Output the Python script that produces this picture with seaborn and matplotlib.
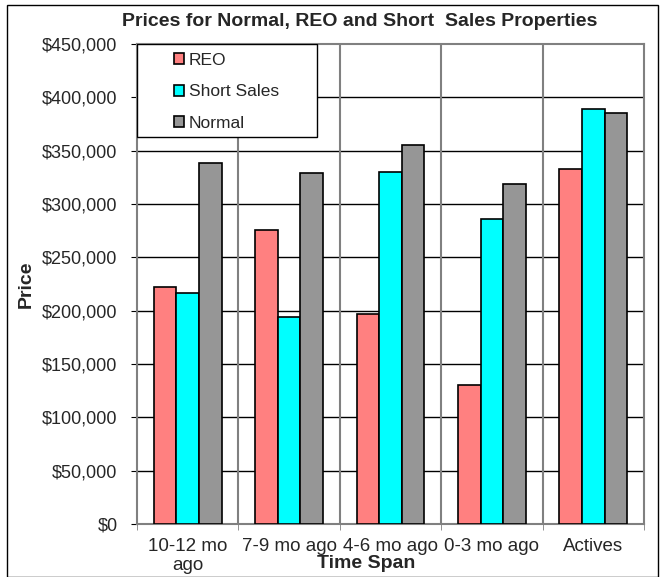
import pandas as pd
import seaborn as sns
import matplotlib.pyplot as plt
from matplotlib.patches import Rectangle, Patch
from matplotlib.ticker import FuncFormatter

# Data
periods = ["10-12 mo\nago", "7-9 mo ago", "4-6 mo ago", "0-3 mo ago", "Actives"]
series = ["REO", "Short Sales", "Normal"]
reo = [222000, 276000, 197000, 130000, 333000]
short_sales = [217000, 194000, 330000, 286000, 389000]
normal = [338000, 329000, 355000, 319000, 385000]
colors = ["#FF8080", "#00FFFF", "#969696"]

df = pd.DataFrame({
    "Time Span": periods * 3,
    "Type": [s for s in series for _ in periods],
    "Price": reo + short_sales + normal,
})

sns.set_style("white")
plt.rcParams["font.family"] = ["Liberation Sans", "DejaVu Sans"]

fig = plt.figure(figsize=(6.6, 5.77), dpi=100)
ax = fig.add_axes([137 / 660, 1 - 524 / 577, 507 / 660, 480 / 577])

sns.barplot(data=df, x="Time Span", y="Price", hue="Type", hue_order=series,
            palette=colors, width=0.67, edgecolor="black", linewidth=1.2,
            saturation=1, legend=False, ax=ax, zorder=3)

ax.set_ylim(0, 450000)
ax.set_xlim(-0.5, 4.5)
ax.set_yticks(range(0, 450001, 50000))
ax.yaxis.set_major_formatter(FuncFormatter(lambda v, p: "${:,.0f}".format(v)))

# black horizontal gridlines, gray category separators
for v in range(50000, 450000, 50000):
    ax.axhline(v, color="black", lw=1, zorder=1)
for b in [0.5, 1.5, 2.5, 3.5]:
    ax.axvline(b, color="#808080", lw=1.5, zorder=1)
ax.set_xticks([-0.5, 0.5, 1.5, 2.5, 3.5, 4.5], minor=True)
ax.tick_params(axis="x", which="minor", direction="out", length=4, color="#808080", bottom=True)
ax.tick_params(axis="x", which="major", length=0, pad=10, labelsize=13.5)
ax.tick_params(axis="y", direction="out", length=4, pad=10, labelsize=13, left=True, color="black")
for s in ax.spines.values():
    s.set_color("#808080")
    s.set_linewidth(1.5)

ax.set_xlabel("")
ax.set_ylabel("Price", fontsize=14, fontweight="bold", labelpad=5)
fig.text(366 / 660, 1 - 564 / 577, "Time Span", fontsize=14, fontweight="bold",
         ha="center", va="center")
fig.text(360 / 660, 1 - 21 / 577, "Prices for Normal, REO and Short  Sales Properties",
         fontsize=14, fontweight="bold", ha="center", va="center")

# legend box
ax.add_patch(Rectangle((0, 1 - 93 / 480), 180 / 507, 93 / 480, transform=ax.transAxes,
                       facecolor="white", edgecolor="black", lw=1, zorder=5))
handles = [Patch(facecolor=c, edgecolor="black", lw=1.2) for c in colors]
leg = ax.legend(handles, series, loc="upper left", bbox_to_anchor=(30 / 507, 1 - 2 / 480),
                frameon=False, fontsize=12.5, handlelength=0.6, handleheight=0.6,
                handletextpad=0.25, labelspacing=0.95, borderaxespad=0)
leg.set_zorder(6)

fig.add_artist(Rectangle((7 / 660, 0), 651 / 660, 1 - 5 / 577, transform=fig.transFigure,
                         fill=False, edgecolor="black", lw=1))

fig.savefig("out.png", dpi=100)
